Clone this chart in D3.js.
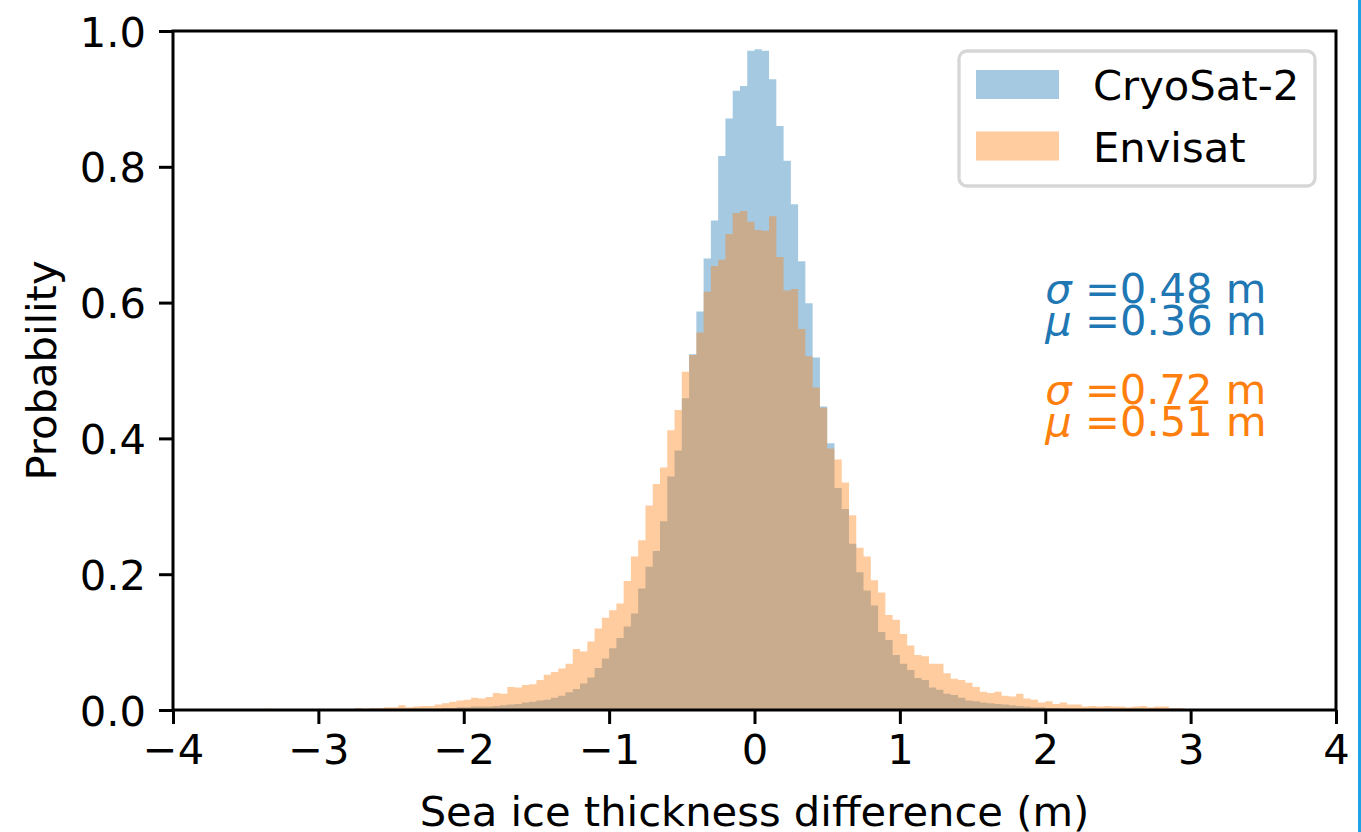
<!DOCTYPE html>
<html>
<head>
<meta charset="utf-8">
<script src="https://cdn.jsdelivr.net/npm/d3@7/dist/d3.min.js"></script>
<style>
  html, body { margin: 0; padding: 0; background: #ffffff; }
  svg { display: block; }
  text { font-family: "DejaVu Sans", sans-serif; }
</style>
</head>
<body>
<svg id="chart" width="1361" height="832"></svg>
<script>
// ---------------- data ----------------
const binStart = -3.5;   // left edge of first bin (m)
const binWidth = 0.05;   // bin width (m)

const seriesNames = ["CryoSat-2", "Envisat"];
const seriesColors = ["#1f77b4", "#ff7f0e"];

// CryoSat-2 probability per bin, bins from -3.5 m to 2.95 m
const cryosat = [
  0,0,0,0,0,0,0,0,0,0,
  0,0,0,0,0,0.001,0.001,0.001,0.001,0.001,
  0.001,0.002,0.002,0.002,0.002,0.002,0.002,0.003,0.003,0.004,
  0.004,0.005,0.005,0.005,0.006,0.007,0.008,0.009,0.011,0.012,
  0.014,0.015,0.018,0.021,0.026,0.031,0.039,0.048,0.062,0.076,
  0.091,0.106,0.123,0.142,0.179,0.211,0.234,0.278,0.344,0.382,
  0.459,0.524,0.587,0.665,0.721,0.816,0.871,0.912,0.919,0.971,
  0.973,0.971,0.929,0.860,0.809,0.745,0.661,0.599,0.519,0.447,
  0.393,0.327,0.296,0.245,0.203,0.176,0.154,0.115,0.103,0.081,
  0.068,0.059,0.047,0.044,0.033,0.030,0.024,0.022,0.018,0.014,
  0.013,0.011,0.010,0.009,0.008,0.007,0.006,0.005,0.004,0.004,
  0.003,0.003,0.002,0.002,0.001,0.001,0,0,0,0,
  0,0,0,0,0,0,0,0,0
];

// Envisat probability per bin, same bins
const envisat = [
  0.001,0.000,0.002,0.002,0.000,0.000,0.000,0.000,0.000,0.000,
  0.001,0.001,0.001,0.000,0.001,0.003,0.002,0.003,0.003,0.004,
  0.004,0.007,0.004,0.005,0.006,0.006,0.008,0.010,0.012,0.014,
  0.015,0.018,0.017,0.019,0.025,0.024,0.034,0.033,0.037,0.038,
  0.044,0.052,0.056,0.061,0.068,0.090,0.086,0.101,0.120,0.136,
  0.147,0.157,0.190,0.226,0.250,0.301,0.333,0.357,0.412,0.442,
  0.498,0.523,0.556,0.616,0.654,0.663,0.701,0.732,0.735,0.719,
  0.707,0.706,0.727,0.667,0.618,0.620,0.561,0.521,0.475,0.445,
  0.385,0.369,0.335,0.287,0.239,0.226,0.191,0.173,0.140,0.133,
  0.112,0.095,0.081,0.079,0.068,0.068,0.054,0.046,0.044,0.040,
  0.034,0.027,0.025,0.027,0.021,0.020,0.024,0.017,0.015,0.011,
  0.013,0.009,0.011,0.008,0.008,0.005,0.006,0.005,0.006,0.005,
  0.005,0.004,0.005,0.006,0.004,0.005,0.005,0.003,0.003
];

const xTicks = [-4, -3, -2, -1, 0, 1, 2, 3, 4];
const yTicks = [0.0, 0.2, 0.4, 0.6, 0.8, 1.0];

// statistics annotations: [label symbol, value text, series index, x (data), y (data)]
const statSymbols = ["σ", "μ", "σ", "μ"];
const statTexts = [" =0.48 m", " =0.36 m", " =0.72 m", " =0.51 m"];
const statSeries = [0, 0, 1, 1];
const statX = [2, 2, 2, 2];
const statY = [0.6, 0.552, 0.45, 0.403];

// ---------------- layout ----------------
const FS = 41.67;
const plot = { left: 173, right: 1336, top: 31, bottom: 710 };
const svg = d3.select("#chart");

const x = d3.scaleLinear().domain([-4, 4]).range([plot.left, plot.right]);
const y = d3.scaleLinear().domain([0, 1]).range([plot.bottom, plot.top]);

function stepPoints(vals) {
  const pts = vals.map((v, i) => ({ x0: binStart + i * binWidth, v: v }));
  pts.push({ x0: binStart + vals.length * binWidth, v: vals[vals.length - 1] });
  return pts;
}

const area = d3.area()
  .x(d => x(d.x0))
  .y0(y(0))
  .y1(d => y(d.v))
  .curve(d3.curveStepAfter);

const gHist = svg.append("g");
[cryosat, envisat].forEach((vals, i) => {
  gHist.append("path")
    .attr("d", area(stepPoints(vals)))
    .attr("fill", seriesColors[i])
    .attr("fill-opacity", 0.4)
    .attr("stroke", "none");
});

// axes
const xAxis = d3.axisBottom(x).tickValues(xTicks)
  .tickFormat(d => (d < 0 ? "\u2212" + Math.abs(d) : String(d)))
  .tickSize(14).tickPadding(12);
const yAxis = d3.axisLeft(y).tickValues(yTicks)
  .tickFormat(d3.format(".1f"))
  .tickSize(14).tickPadding(13);

const gx = svg.append("g").attr("transform", `translate(0,${plot.bottom})`).call(xAxis);
const gy = svg.append("g").attr("transform", `translate(${plot.left},0)`).call(yAxis);
[gx, gy].forEach(g => {
  g.select(".domain").remove();
  g.selectAll(".tick line").attr("stroke", "#000").attr("stroke-width", 3);
  g.selectAll(".tick text").attr("fill", "#000")
    .style("font-family", "'DejaVu Sans', sans-serif")
    .style("font-size", FS + "px");
});
gx.selectAll(".tick text").attr("dy", null).attr("y", 0)
  .attr("transform", "translate(0,54)");
gy.selectAll(".tick text").attr("dy", "0.36em");

// frame
svg.append("rect")
  .attr("x", plot.left).attr("y", plot.top)
  .attr("width", plot.right - plot.left).attr("height", plot.bottom - plot.top)
  .attr("fill", "none").attr("stroke", "#000").attr("stroke-width", 3);

// axis labels
svg.append("text")
  .attr("x", (plot.left + plot.right) / 2).attr("y", 826)
  .attr("text-anchor", "middle").style("font-size", FS + "px")
  .text("Sea ice thickness difference (m)");
svg.append("text")
  .attr("transform", `translate(56,${(plot.top + plot.bottom) / 2}) rotate(-90)`)
  .attr("text-anchor", "middle").style("font-size", FS + "px")
  .text("Probability");

// legend
const lg = svg.append("g");
lg.append("rect")
  .attr("x", 959).attr("y", 51).attr("width", 356).attr("height", 135)
  .attr("rx", 8).attr("ry", 8)
  .attr("fill", "#fff").attr("fill-opacity", 0.8)
  .attr("stroke", "#cccccc").attr("stroke-opacity", 0.8).attr("stroke-width", 3.3);
seriesNames.forEach((name, i) => {
  const yy = 70 + i * 61.5;
  lg.append("rect").attr("x", 976).attr("y", yy).attr("width", 83).attr("height", 29)
    .attr("fill", seriesColors[i]).attr("fill-opacity", 0.4);
  lg.append("text").attr("x", 1093).attr("y", yy + 30)
    .style("font-size", FS + "px").attr("fill", "#000").text(name);
});

// statistics text
statTexts.forEach((t, i) => {
  const tx = svg.append("text")
    .attr("x", x(statX[i])).attr("y", y(statY[i]))
    .style("font-size", FS + "px")
    .attr("fill", seriesColors[statSeries[i]]);
  tx.append("tspan").style("font-style", "italic").text(statSymbols[i]);
  tx.append("tspan").text(t);
});

// right-edge blue bar present in the reference image
svg.append("rect").attr("x", 1358).attr("y", 0).attr("width", 3).attr("height", 832)
  .attr("fill", "#1ea3e6");
</script>
</body>
</html>
